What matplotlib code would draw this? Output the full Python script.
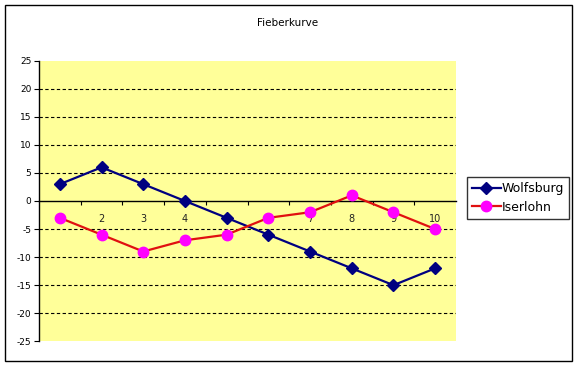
import matplotlib
matplotlib.use("Agg")
import matplotlib.pyplot as plt
from matplotlib.patches import Rectangle

categories = [1, 2, 3, 4, 5, 6, 7, 8, 9, 10]
tick_labels = ["1", "2", "3", "4", "5", "6", "7", "8", "9", "10"]
wolfsburg = [3, 6, 3, 0, -3, -6, -9, -12, -15, -12]
iserlohn = [-3, -6, -9, -7, -6, -3, -2, 1, -2, -5]
y_ticks = [25, 20, 15, 10, 5, 0, -5, -10, -15, -20, -25]

W, H = 578, 366
fig = plt.figure(figsize=(W / 100, H / 100), dpi=100)
fig.patch.set_facecolor("white")
plt.rcParams['font.family'] = ['DejaVu Sans']

# outer chart border
fig.patches.append(Rectangle((5 / W, 1 - 361 / H), 567 / W, 356 / H,
                             transform=fig.transFigure, fill=False,
                             edgecolor="black", linewidth=1.0))

ax = fig.add_axes([39 / W, 1 - 341.3 / H, 417 / W, 280.6 / H])
ax.set_facecolor("#FFFF99")
ax.set_xlim(0.5, 10.5)
ax.set_ylim(-25, 25)

for s in ["top", "right"]:
    ax.spines[s].set_visible(False)
ax.spines["bottom"].set_position(("data", 0))
ax.spines["bottom"].set_linewidth(1.0)
ax.spines["left"].set_linewidth(1.0)

# gridlines
for y in y_ticks:
    if y not in (25, -25, 0):
        ax.axhline(y, color="black", linewidth=0.8, linestyle=(0, (3, 2.2)), zorder=1)

ax.set_yticks(y_ticks)
ax.set_yticklabels([str(v) for v in y_ticks])
ax.tick_params(axis="y", direction="out", length=3.5, width=0.8, labelsize=6.5, pad=2)

ax.set_xticks(categories)
ax.set_xticklabels(tick_labels)
ax.set_xticks([c + 0.5 for c in categories[:-1]], minor=True)
ax.tick_params(axis="x", which="major", length=0, labelsize=7, pad=9, labelcolor="#222222")
ax.tick_params(axis="x", which="minor", direction="out", length=3, width=0.8)
for lbl in ax.get_xticklabels():
    lbl.set_zorder(0)

ax.plot(categories, wolfsburg, color="#000080", linewidth=1.6, marker="D",
        markersize=6, markerfacecolor="#000080", markeredgecolor="#000080",
        label="Wolfsburg", zorder=3)
ax.plot(categories, iserlohn, color="#E01010", linewidth=1.6, marker="o",
        markersize=7.5, markerfacecolor="#FF00FF", markeredgecolor="#FF00FF",
        label="Iserlohn", zorder=3)

fig.text(288 / W, 1 - 23 / H, "Fieberkurve", ha="center", va="center",
         fontsize=7.5, color="black")

leg = fig.legend(loc="upper left", bbox_to_anchor=(467 / W, 1 - 177 / H),
                 frameon=True, fancybox=False, edgecolor="black",
                 fontsize=9, handlelength=2.3, handletextpad=0.1,
                 borderpad=0.4, labelspacing=0.45, borderaxespad=0)
leg.get_frame().set_linewidth(1.0)

fig.savefig("out.png", dpi=100)
